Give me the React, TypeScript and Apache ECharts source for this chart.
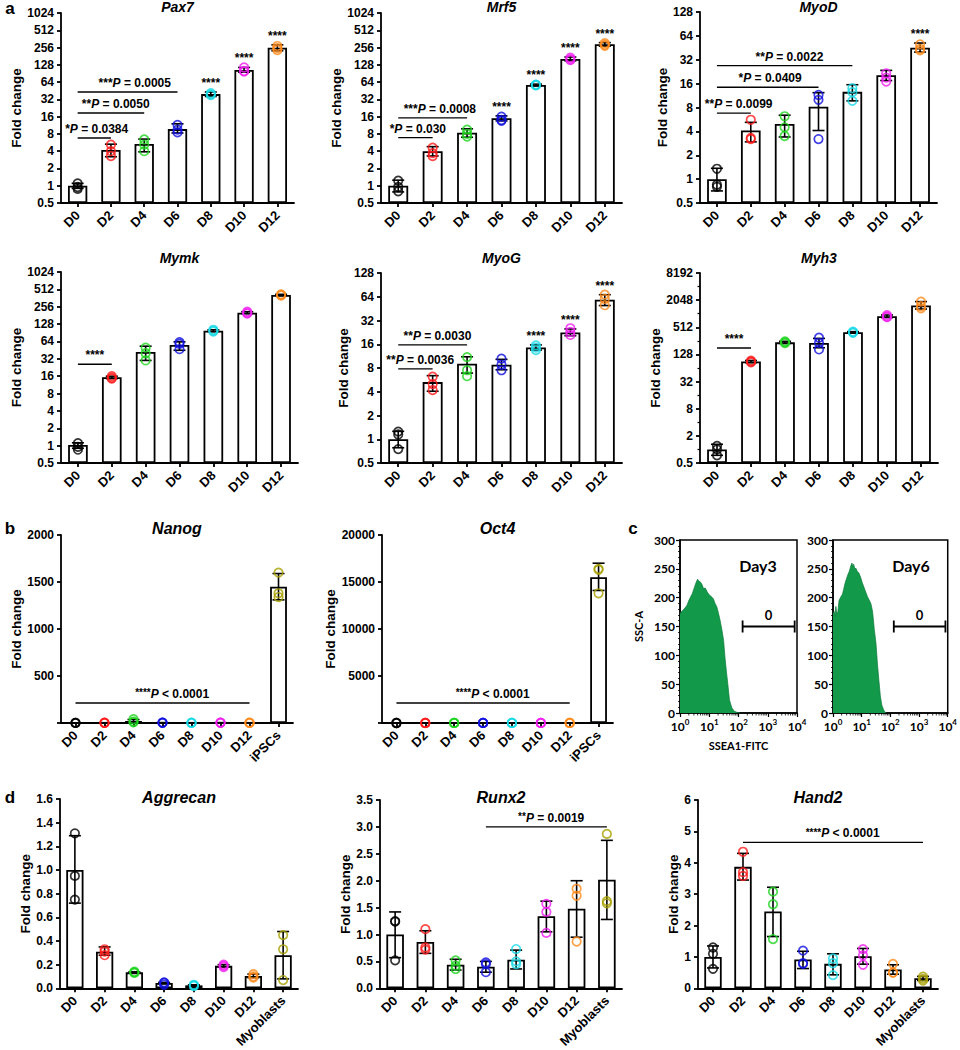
import React, { useEffect, useRef } from 'react';
import * as echarts from 'echarts';

// ---------------- categories & colours ----------------
const DAYS = ['D0', 'D2', 'D4', 'D6', 'D8', 'D10', 'D12'];
const CATS_IPSC = [...DAYS, 'iPSCs'];
const CATS_MYO = [...DAYS, 'Myoblasts'];
const DOT_COLORS = ['#000000', '#ff1a1a', '#1ed41e', '#1010e0', '#19d9e6', '#f01ef0', '#ff8a1a', '#a8a000'];

// ---------------- panel a (log2 fold change) ----------------
const pax7Mean = [1, 4.2, 5.35, 9.7, 39.5, 104, 254];
const pax7Lo = [0.9, 3.2, 3.9, 8.3, 36, 95, 225];
const pax7Hi = [1.1, 5.3, 6.5, 12, 43, 115, 285];
const pax7Pts = [[1.1, 0.95, 0.88], [5.2, 4.0, 3.3], [6.4, 5.2, 4.0], [11.5, 9.5, 8.5], [41, 39, 38], [115, 100, 98], [272, 250, 232]];
const pax7Sig = [
  { a: 0, b: 1, y: 6.8, st: '*', p: 'P = 0.0384' },
  { a: 0, b: 2, y: 18.5, st: '**', p: 'P = 0.0050' },
  { a: 0, b: 3, y: 43, st: '***', p: 'P = 0.0005' },
];
const pax7Stars = [4, 5, 6];

const mrf5Mean = [1, 4.0, 8.4, 15, 57, 162, 292];
const mrf5Lo = [0.78, 3.3, 7.0, 13.5, 55, 150, 270];
const mrf5Hi = [1.25, 4.8, 9.8, 16.5, 59, 175, 312];
const mrf5Pts = [[1.22, 0.95, 0.8], [4.6, 3.7, 3.3], [9.5, 8.0, 7.2], [16, 14, 13.5], [58, 57, 56], [170, 160, 155], [305, 285, 275]];
const mrf5Sig = [
  { a: 0, b: 1, y: 6.9, st: '*', p: 'P = 0.030' },
  { a: 0, b: 2, y: 15.2, st: '***', p: 'P = 0.0008' },
];
const mrf5Stars = [3, 4, 5, 6];

const myodMean = [1.0, 4.1, 4.95, 8.2, 12.6, 20.4, 45.5];
const myodLo = [0.71, 2.95, 3.4, 4.1, 9.7, 17.5, 40];
const myodHi = [1.37, 5.2, 6.4, 12.3, 15.5, 23.5, 52];
const myodPts = [[1.35, 0.85, 0.8], [5.6, 3.3, 3.2], [6.2, 4.5, 3.5], [11.5, 10, 3.2], [14, 12.5, 9.7], [21.5, 19, 17], [50, 44, 42]];
const myodSig = [
  { a: 0, b: 1, y: 6.8, st: '**', p: 'P = 0.0099' },
  { a: 0, b: 3, y: 14.4, st: '*', p: 'P = 0.0409' },
  { a: 0, b: 4, y: 27, st: '**', p: 'P = 0.0022' },
];
const myodStars = [6];

const mymkMean = [1.03, 15.3, 42, 55.6, 98, 202, 410];
const mymkLo = [0.9, 14.5, 30, 45, 95, 195, 400];
const mymkHi = [1.12, 16.0, 53, 63, 102, 210, 420];
const mymkPts = [[1.1, 0.95, 0.85], [16, 15, 14.5], [50, 40, 30], [62, 58, 47], [102, 98, 95], [210, 200, 195], [420, 410, 400]];
const mymkSig = [{ a: 0, b: 1, y: 25.8, st: '****', p: '' }];
const mymkStars: number[] = [];

const myogMean = [1.0, 5.3, 9.05, 8.8, 14.6, 22.6, 58.8];
const myogLo = [0.78, 4.06, 6.9, 7.6, 13.5, 20.5, 49.5];
const myogHi = [1.26, 6.4, 11.1, 10.3, 15.7, 25, 68];
const myogPts = [[1.25, 1.15, 0.75], [6.2, 5.0, 4.2], [11, 7.5, 6.3], [10.5, 8.8, 7.5], [15.5, 14.5, 13.5], [25.5, 23, 21], [68, 60, 50]];
const myogSig = [
  { a: 0, b: 1, y: 7.8, st: '**', p: 'P = 0.0036' },
  { a: 0, b: 2, y: 15.7, st: '**', p: 'P = 0.0030' },
];
const myogStars = [4, 5, 6];

const myh3Mean = [1.0, 89, 237, 229, 396, 900, 1560];
const myh3Lo = [0.74, 84, 225, 180, 380, 840, 1300];
const myh3Hi = [1.3, 94, 250, 290, 410, 960, 1900];
const myh3Pts = [[1.2, 1.0, 0.74], [93, 89, 85], [250, 237, 228], [300, 230, 165], [410, 396, 385], [950, 880, 860], [1900, 1500, 1350]];
const myh3Sig = [{ a: 0, b: 1, y: 178, st: '****', p: '' }];
const myh3Stars: number[] = [];

// ---------------- panel b ----------------
const nanogMean = [1, 2, 21, 3, 2, 3, 2, 1450];
const nanogLo = [0.5, 1, 5, 2, 1, 2, 1, 1310];
const nanogHi = [1.5, 3, 37, 4, 3, 4, 3, 1590];
const nanogPts = [[1.5, 1, 0.5], [3, 2, 1], [40, 15, 8], [4, 3, 2], [3, 2, 1], [4, 3, 2], [3, 2, 1], [1600, 1380, 1340]];
const nanogSig = [{ a: 0, b: 6, y: 213, st: '****', p: 'P < 0.0001' }];

const oct4Mean = [1, 3, 4, 6, 4, 5, 4, 15500];
const oct4Lo = [0.5, 2, 3, 4, 3, 4, 3, 14100];
const oct4Hi = [1.5, 4, 5, 8, 5, 6, 5, 17000];
const oct4Pts = [[1.5, 1, 0.5], [4, 3, 2], [5, 4, 3], [8, 6, 4], [5, 4, 3], [6, 5, 4], [5, 4, 3], [16300, 16400, 13800]];
const oct4Sig = [{ a: 0, b: 6, y: 2130, st: '****', p: 'P < 0.0001' }];

// ---------------- panel c (flow histograms: [log10 SSEA1-FITC, count]) ----------------
const day3Hist = [[0, 172], [0.05, 176], [0.1, 178], [0.17, 182], [0.24, 187], [0.3, 195], [0.36, 201], [0.42, 207], [0.48, 216], [0.54, 225], [0.6, 232], [0.64, 229], [0.7, 227], [0.76, 222], [0.81, 215], [0.86, 217], [0.92, 211], [0.98, 206], [1.05, 203], [1.14, 198], [1.2, 190], [1.26, 184], [1.32, 172], [1.37, 161], [1.43, 145], [1.49, 126], [1.54, 95], [1.58, 75], [1.62, 57], [1.66, 38], [1.69, 23], [1.77, 9], [1.86, 3], [1.96, 1], [2.05, 0]];
const day6Hist = [[0, 172], [0.04, 176], [0.07, 168], [0.1, 185], [0.13, 172], [0.17, 176], [0.21, 195], [0.25, 199], [0.29, 203], [0.33, 206], [0.37, 214], [0.42, 225], [0.47, 233], [0.52, 240], [0.57, 246], [0.62, 255], [0.66, 260], [0.69, 254], [0.72, 258], [0.76, 250], [0.8, 251], [0.85, 245], [0.9, 243], [0.96, 236], [1.02, 226], [1.08, 218], [1.14, 210], [1.2, 202], [1.26, 196], [1.32, 190], [1.38, 176], [1.44, 145], [1.5, 120], [1.55, 85], [1.6, 57], [1.65, 30], [1.7, 14], [1.76, 6], [1.82, 1], [1.86, 0]];
const day3Gate = [2.14, 3.92, 150];
const day6Gate = [2.12, 3.92, 150];
const gatePercent = ['0', '0'];

// ---------------- panel d (linear) ----------------
const aggMean = [1.0, 0.31, 0.135, 0.045, 0.025, 0.19, 0.105, 0.28];
const aggLo = [0.72, 0.28, 0.13, 0.04, 0.02, 0.18, 0.09, 0.08];
const aggHi = [1.29, 0.35, 0.14, 0.05, 0.03, 0.2, 0.12, 0.48];
const aggPts = [[1.31, 0.95, 0.75], [0.33, 0.31, 0.28], [0.14, 0.135, 0.13], [0.05, 0.045, 0.03], [0.03, 0.025, 0.02], [0.2, 0.19, 0.18], [0.12, 0.1, 0.09], [0.45, 0.33, 0.07]];

const runxMean = [1.0, 0.86, 0.44, 0.4, 0.53, 1.34, 1.48, 2.02];
const runxLo = [0.57, 0.65, 0.34, 0.3, 0.36, 1.05, 0.95, 1.28];
const runxHi = [1.42, 1.07, 0.54, 0.5, 0.71, 1.62, 2.0, 2.75];
const runxPts = [[1.25, 1.24, 0.52], [1.1, 0.76, 0.72], [0.52, 0.42, 0.36], [0.48, 0.45, 0.3], [0.73, 0.5, 0.45], [1.57, 1.42, 1.03], [1.85, 1.72, 0.87], [2.87, 1.62, 1.58]];
const runxSig = [{ a: 3, b: 7, y: 3.0, st: '**', p: 'P = 0.0019' }];

const handMean = [1.0, 3.87, 2.45, 0.92, 0.78, 1.02, 0.6, 0.32];
const handLo = [0.65, 3.45, 1.65, 0.63, 0.43, 0.77, 0.45, 0.25];
const handHi = [1.35, 4.3, 3.22, 1.18, 1.1, 1.27, 0.75, 0.38];
const handPts = [[1.3, 1.1, 0.62], [4.35, 3.7, 3.58], [3.08, 2.68, 1.57], [1.2, 0.8, 0.78], [0.95, 0.8, 0.42], [1.25, 1.05, 0.75], [0.78, 0.5, 0.5], [0.37, 0.3, 0.25]];
const handSig = [{ a: 1, b: 7, y: 4.65, st: '****', p: 'P < 0.0001' }];

// ---------------- styling / layout ----------------
const FONT = '"Liberation Sans", Arial, sans-serif';
const FLOW_FONT = 'Lato, "Open Sans", sans-serif';
const AX = { color: '#000', width: 1.8 };

const barPanels: any[] = [
  { title: 'Pax7', cats: DAYS, mean: pax7Mean, lo: pax7Lo, hi: pax7Hi, pts: pax7Pts, sig: pax7Sig, stars: pax7Stars, rect: [61, 13, 233, 190], scale: { log: true, base: 0.5, max: 11, interval: 1 }, nameGap: 36, titleY: 7, titleSize: 14, tick: 12 },
  { title: 'Mrf5', cats: DAYS, mean: mrf5Mean, lo: mrf5Lo, hi: mrf5Hi, pts: mrf5Pts, sig: mrf5Sig, stars: mrf5Stars, rect: [381, 13, 241, 190], scale: { log: true, base: 0.5, max: 11, interval: 1 }, nameGap: 34, titleY: 7, titleSize: 14, tick: 12 },
  { title: 'MyoD', cats: DAYS, mean: myodMean, lo: myodLo, hi: myodHi, pts: myodPts, sig: myodSig, stars: myodStars, rect: [700, 12, 237, 191], scale: { log: true, base: 0.5, max: 8, interval: 1 }, nameGap: 28, titleY: 7, titleSize: 14, tick: 12 },
  { title: 'Mymk', cats: DAYS, mean: mymkMean, lo: mymkLo, hi: mymkHi, pts: mymkPts, sig: mymkSig, stars: mymkStars, rect: [61, 272, 237, 191], scale: { log: true, base: 0.5, max: 11, interval: 1 }, nameGap: 36, titleY: 258, titleSize: 14, tick: 12 },
  { title: 'MyoG', cats: DAYS, mean: myogMean, lo: myogLo, hi: myogHi, pts: myogPts, sig: myogSig, stars: myogStars, rect: [381, 273, 241, 190], scale: { log: true, base: 0.5, max: 8, interval: 1 }, nameGap: 27, titleY: 258, titleSize: 14, tick: 12 },
  { title: 'Myh3', cats: DAYS, mean: myh3Mean, lo: myh3Lo, hi: myh3Hi, pts: myh3Pts, sig: myh3Sig, stars: myh3Stars, rect: [700, 273, 238, 190], scale: { log: true, base: 0.5, max: 14, interval: 2, minor: true }, nameGap: 35, titleY: 258, titleSize: 14, tick: 12 },
  { title: 'Nanog', cats: CATS_IPSC, mean: nanogMean, lo: nanogLo, hi: nanogHi, pts: nanogPts, sig: nanogSig, stars: [], rect: [61, 535, 232, 188], scale: { log: false, min: 0, max: 2000, interval: 500, dec: 0, hideZero: true }, nameGap: 36, titleY: 528, titleSize: 16, tick: 12, smallStars: true },
  { title: 'Oct4', cats: CATS_IPSC, mean: oct4Mean, lo: oct4Lo, hi: oct4Hi, pts: oct4Pts, sig: oct4Sig, stars: [], rect: [382, 535, 231, 188], scale: { log: false, min: 0, max: 20000, interval: 5000, dec: 0, hideZero: true }, nameGap: 42, titleY: 528, titleSize: 16, tick: 12, smallStars: true },
  { title: 'Aggrecan', cats: CATS_MYO, mean: aggMean, lo: aggLo, hi: aggHi, pts: aggPts, sig: [], stars: [], rect: [60, 799, 238, 192], scale: { log: false, min: 0, max: 1.6, interval: 0.2, dec: 1 }, nameGap: 25, titleY: 797, titleSize: 16, tick: 12 },
  { title: 'Runx2', cats: CATS_MYO, mean: runxMean, lo: runxLo, hi: runxHi, pts: runxPts, sig: runxSig, stars: [], rect: [380, 800, 242, 191], scale: { log: false, min: 0, max: 3.5, interval: 0.5, dec: 1 }, nameGap: 21, titleY: 797, titleSize: 16, tick: 12, smallStars: true },
  { title: 'Hand2', cats: CATS_MYO, mean: handMean, lo: handLo, hi: handHi, pts: handPts, sig: handSig, stars: [], rect: [698, 800, 240, 191], scale: { log: false, min: 0, max: 6, interval: 1, dec: 0 }, nameGap: 12, titleY: 797, titleSize: 16, tick: 12, smallStars: true },
];

const flowPanels: any[] = [
  { hist: day3Hist, gate: day3Gate, pct: gatePercent[0], label: 'Day3', rect: [680, 540, 117, 173], xName: 'SSEA1-FITC', yName: 'SSC-A' },
  { hist: day6Hist, gate: day6Gate, pct: gatePercent[1], label: 'Day6', rect: [833, 540, 117, 173], xName: '', yName: '' },
];

function fmtLog(base: number, v: number) {
  const x = base * Math.pow(2, v);
  return x < 1 ? String(x) : String(Math.round(x));
}

function buildBarPanel(p: any, g: number) {
  const isLog = p.scale.log;
  const tf = isLog ? (v: number) => Math.log2(v / p.scale.base) : (v: number) => v;
  const grid = { left: p.rect[0], top: p.rect[1], width: p.rect[2], height: p.rect[3], containLabel: false };
  const xAxis = {
    type: 'category', gridIndex: g, data: p.cats,
    axisLine: { show: true, lineStyle: AX },
    axisTick: { show: true, alignWithLabel: true, length: 4, lineStyle: AX },
    axisLabel: { interval: 0, rotate: 45, margin: 10, color: '#000', fontSize: 13, fontWeight: 'bold', fontFamily: FONT },
    splitLine: { show: false },
  };
  const yAxis = {
    type: 'value', gridIndex: g,
    min: isLog ? 0 : p.scale.min, max: p.scale.max, interval: p.scale.interval,
    axisLine: { show: true, lineStyle: AX },
    axisTick: { show: true, length: 4, lineStyle: AX },
    minorTick: p.scale.minor ? { show: true, splitNumber: 2, length: 2.5, lineStyle: { color: '#000', width: 1.2 } } : { show: false },
    splitLine: { show: false },
    axisLabel: {
      margin: 7, color: '#000', fontSize: p.tick, fontWeight: 'bold', fontFamily: FONT, showMinLabel: true, showMaxLabel: true,
      formatter: (v: number) => {
        if (isLog) return fmtLog(p.scale.base, v);
        if (v === 0 && p.scale.hideZero) return '';
        return v.toFixed(p.scale.dec);
      },
    },
    name: 'Fold change', nameLocation: 'middle', nameGap: p.nameGap,
    nameTextStyle: { fontSize: 13.5, fontWeight: 'bold', color: '#000', fontFamily: FONT },
  };

  const bar = {
    type: 'bar', xAxisIndex: g, yAxisIndex: g, silent: true, z: 2,
    data: p.mean.map(tf), barWidth: '58%',
    itemStyle: { color: '#fff', borderColor: '#000', borderWidth: 1.8 },
  };

  const err = {
    type: 'custom', xAxisIndex: g, yAxisIndex: g, silent: true, z: 3,
    data: p.cats.map((_: string, i: number) => [i, tf(p.lo[i]), tf(p.hi[i])]),
    encode: { x: 0, y: [1, 2] },
    renderItem: (params: any, api: any) => {
      const x = api.value(0);
      const lo = api.coord([x, api.value(1)]);
      const hi = api.coord([x, api.value(2)]);
      const w = 6;
      const st = { stroke: '#000', lineWidth: 1.6 };
      return {
        type: 'group', children: [
          { type: 'line', shape: { x1: lo[0], y1: lo[1], x2: hi[0], y2: hi[1] }, style: st },
          { type: 'line', shape: { x1: hi[0] - w, y1: hi[1], x2: hi[0] + w, y2: hi[1] }, style: st },
          { type: 'line', shape: { x1: lo[0] - w, y1: lo[1], x2: lo[0] + w, y2: lo[1] }, style: st },
        ],
      };
    },
  };

  const dotData: any[] = [];
  p.pts.forEach((arr: number[], i: number) => {
    arr.forEach((v) => dotData.push({ value: [i, tf(v)], itemStyle: { borderColor: DOT_COLORS[i] } }));
  });
  const dots = {
    type: 'scatter', xAxisIndex: g, yAxisIndex: g, silent: true, z: 4,
    symbol: 'circle', symbolSize: 8.5, data: dotData,
    itemStyle: { color: 'rgba(255,255,255,0)', borderWidth: 1.7 },
  };

  const starStyle = p.smallStars
    ? { fontSize: 10, fontWeight: 'bold', fontFamily: FONT, fill: '#000', verticalAlign: 'top' }
    : { fontSize: 12, fontWeight: 'bold', fontFamily: FONT, fill: '#000' };
  const sig = {
    type: 'custom', xAxisIndex: g, yAxisIndex: g, silent: true, z: 5,
    data: p.sig.map((s: any) => [s.a, s.b, tf(s.y)]),
    encode: { x: [0, 1], y: 2 },
    renderItem: (params: any, api: any) => {
      const s = p.sig[params.dataIndex];
      const p1 = api.coord([api.value(0), api.value(2)]);
      const p2 = api.coord([api.value(1), api.value(2)]);
      const txt = s.p ? `{s|${s.st}}{i|P}{n|${s.p.slice(1)}}` : `{s|${s.st}}`;
      const shift = s.p ? s.st.length * 2.4 : 0;
      return {
        type: 'group', children: [
          { type: 'line', shape: { x1: p1[0], y1: p1[1], x2: p2[0], y2: p2[1] }, style: { stroke: '#000', lineWidth: 1.4 } },
          {
            type: 'text', x: (p1[0] + p2[0]) / 2 + shift, y: p1[1] - 3,
            style: {
              text: txt, fill: '#000', align: 'center', verticalAlign: 'bottom', textAlign: 'center', textVerticalAlign: 'bottom',
              font: `bold 12px ${FONT}`,
              rich: {
                s: starStyle,
                i: { fontSize: 12, fontWeight: 'bold', fontStyle: 'italic', fontFamily: FONT, fill: '#000' },
                n: { fontSize: 12, fontWeight: 'bold', fontFamily: FONT, fill: '#000' },
              },
            },
          },
        ],
      };
    },
  };

  const stars = {
    type: 'custom', xAxisIndex: g, yAxisIndex: g, silent: true, z: 5,
    data: p.stars.map((i: number) => [i, tf(p.hi[i])]),
    encode: { x: 0, y: 1 },
    renderItem: (params: any, api: any) => {
      const c = api.coord([api.value(0), api.value(1)]);
      return {
        type: 'text', x: c[0], y: c[1] - 3,
        style: { text: '****', fill: '#000', font: `bold 12px ${FONT}`, align: 'center', verticalAlign: 'bottom', textAlign: 'center', textVerticalAlign: 'bottom' },
      };
    },
  };

  const title = {
    type: 'text', x: p.rect[0] + p.rect[2] / 2, y: p.titleY,
    style: { text: p.title, fill: '#000', font: `italic bold ${p.titleSize}px ${FONT}`, align: 'center', verticalAlign: 'middle', textAlign: 'center', textVerticalAlign: 'middle' },
  };

  return { grid, xAxis, yAxis, series: [bar, err, dots, sig, stars], graphic: [title] };
}

function buildFlowPanel(f: any, g: number) {
  const grid = { left: f.rect[0], top: f.rect[1], width: f.rect[2], height: f.rect[3], containLabel: false, show: true, borderColor: '#000', borderWidth: 1.5, backgroundColor: 'rgba(0,0,0,0)' };
  const lbl = { fontSize: 12, fontWeight: 'bold', fontFamily: FLOW_FONT, color: '#000' };
  const xAxis = {
    type: 'value', gridIndex: g, min: 0, max: 4, interval: 1,
    axisLine: { show: true, lineStyle: { color: '#000', width: 1.5 } },
    axisTick: { show: true, length: 4, lineStyle: { color: '#000', width: 1.2 } },
    splitLine: { show: false },
    axisLabel: {
      margin: 5, formatter: (v: number) => `{b|10}{s|${v}}`,
      rich: { b: { ...lbl, lineHeight: 16 }, s: { fontSize: 8, fontWeight: 'bold', fontFamily: FLOW_FONT, color: '#000', verticalAlign: 'top', lineHeight: 10 } },
    },
    name: f.xName, nameLocation: 'middle', nameGap: 27,
    nameTextStyle: { fontSize: 11, fontWeight: 'bold', fontFamily: FLOW_FONT, color: '#000' },
  };
  const yAxis = {
    type: 'value', gridIndex: g, min: 0, max: 300, interval: 50,
    axisLine: { show: true, lineStyle: { color: '#000', width: 1.5 } },
    axisTick: { show: true, length: 4, lineStyle: { color: '#000', width: 1.2 } },
    minorTick: { show: true, splitNumber: 5, length: 2, lineStyle: { color: '#000', width: 0.8 } },
    splitLine: { show: false },
    axisLabel: { margin: 5, ...lbl },
    name: f.yName, nameLocation: 'middle', nameGap: 36,
    nameTextStyle: { fontSize: 11, fontWeight: 'bold', fontFamily: FLOW_FONT, color: '#000' },
  };
  const hist = {
    type: 'line', xAxisIndex: g, yAxisIndex: g, silent: true, z: 2,
    data: f.hist, showSymbol: false, symbol: 'none',
    lineStyle: { color: '#0b7a3a', width: 0.7 },
    areaStyle: { color: '#12994a', opacity: 1 },
  };
  const gate = {
    type: 'custom', xAxisIndex: g, yAxisIndex: g, silent: true, z: 5,
    data: [f.gate], encode: { x: [0, 1], y: 2 },
    renderItem: (params: any, api: any) => {
      const p1 = api.coord([api.value(0), api.value(2)]);
      const p2 = api.coord([api.value(1), api.value(2)]);
      const st = { stroke: '#000', lineWidth: 1.8 };
      return {
        type: 'group', children: [
          { type: 'line', shape: { x1: p1[0], y1: p1[1], x2: p2[0], y2: p2[1] }, style: st },
          { type: 'line', shape: { x1: p1[0], y1: p1[1] - 6, x2: p1[0], y2: p1[1] + 6 }, style: st },
          { type: 'line', shape: { x1: p2[0], y1: p2[1] - 6, x2: p2[0], y2: p2[1] + 6 }, style: st },
          { type: 'text', x: (p1[0] + p2[0]) / 2, y: p1[1] - 5, style: { text: f.pct, fill: '#000', font: `bold 13px ${FLOW_FONT}`, align: 'center', verticalAlign: 'bottom', textAlign: 'center', textVerticalAlign: 'bottom' } },
        ],
      };
    },
  };
  const minorPos: number[][] = [];
  for (let d = 0; d < 4; d++) for (let k = 2; k <= 9; k++) minorPos.push([d + Math.log10(k), 0]);
  const minor = {
    type: 'custom', xAxisIndex: g, yAxisIndex: g, silent: true, z: 6,
    data: minorPos, encode: { x: 0, y: 1 },
    renderItem: (params: any, api: any) => {
      const c = api.coord([api.value(0), 0]);
      return { type: 'line', shape: { x1: c[0], y1: c[1], x2: c[0], y2: c[1] + 2.5 }, style: { stroke: '#000', lineWidth: 0.8 } };
    },
  };
  const label = {
    type: 'text', x: f.rect[0] + 78, y: f.rect[1] + 25,
    style: { text: f.label, fill: '#000', font: `bold 16px ${FLOW_FONT}`, align: 'center', verticalAlign: 'middle', textAlign: 'center', textVerticalAlign: 'middle' },
  };
  return { grid, xAxis, yAxis, series: [hist, gate, minor], graphic: [label] };
}

function buildOption() {
  const grids: any[] = [];
  const xAxes: any[] = [];
  const yAxes: any[] = [];
  const series: any[] = [];
  const graphic: any[] = [];
  let g = 0;
  barPanels.forEach((p) => {
    const r = buildBarPanel(p, g++);
    grids.push(r.grid); xAxes.push(r.xAxis); yAxes.push(r.yAxis); series.push(...r.series); graphic.push(...r.graphic);
  });
  flowPanels.forEach((f) => {
    const r = buildFlowPanel(f, g++);
    grids.push(r.grid); xAxes.push(r.xAxis); yAxes.push(r.yAxis); series.push(...r.series); graphic.push(...r.graphic);
  });
  const letters = [['a', 10, 8], ['b', 10, 528], ['c', 633, 528], ['d', 10, 797]];
  letters.forEach(([t, x, y]) => {
    graphic.push({ type: 'text', x, y, style: { text: t, fill: '#000', font: `bold 17px ${FONT}`, align: 'center', verticalAlign: 'middle', textAlign: 'center', textVerticalAlign: 'middle' } });
  });
  return {
    animation: false,
    backgroundColor: '#fff',
    grid: grids, xAxis: xAxes, yAxis: yAxes, series, graphic,
  };
}

export default function App() {
  const ref = useRef<HTMLDivElement>(null);
  useEffect(() => {
    if (!ref.current) return;
    const chart = echarts.init(ref.current, null, { renderer: 'svg' });
    chart.setOption(buildOption() as any);
    return () => chart.dispose();
  }, []);
  return <div ref={ref} style={{ position: 'absolute', left: 0, top: 0, width: 960, height: 1050, background: '#fff' }} />;
}
